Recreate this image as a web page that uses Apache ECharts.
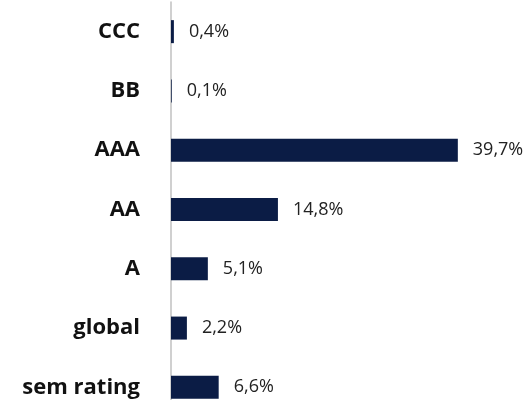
<!DOCTYPE html>
<html>
<head>
<meta charset="utf-8">
<script src="https://cdn.jsdelivr.net/npm/echarts@6/dist/echarts.min.js"></script>
<style>
  html, body { margin: 0; padding: 0; background: #fff; }
  #chart { width: 527px; height: 400px; }
</style>
</head>
<body>
<div id="chart"></div>
<script>
// categorias de rating, de cima para baixo
const categories = ['CCC', 'BB', 'AAA', 'AA', 'A', 'global', 'sem rating'];
// percentagem por rating
const values = [0.4, 0.1, 39.7, 14.8, 5.1, 2.2, 6.6];

const chart = echarts.init(document.getElementById('chart'));

const option = {
    animation: false,
    grid: {
        left: 171,
        right: 67,
        top: 2,
        height: 415,
        outerBoundsMode: 'none',
        containLabel: false
    },
    xAxis: {
        type: 'value',
        min: 0,
        max: 40,
        show: false
    },
    yAxis: {
        type: 'category',
        inverse: true,
        data: categories,
        axisLine: {
            show: true,
            lineStyle: { color: '#c0c0c0', width: 1.5 }
        },
        axisTick: { show: false },
        axisLabel: {
            margin: 31,
            fontFamily: 'Open Sans',
            fontWeight: 'bold',
            fontSize: 22,
            color: '#111'
        }
    },
    series: [
        {
            type: 'bar',
            data: values,
            barWidth: 23,
            itemStyle: { color: '#0b1c45' },
            label: {
                show: true,
                position: 'right',
                distance: 15,
                fontFamily: 'Open Sans',
                fontSize: 18,
                color: '#222',
                formatter: (p) => p.value.toFixed(1).replace('.', ',') + '%'
            }
        }
    ]
};

chart.setOption(option);
</script>
</body>
</html>
